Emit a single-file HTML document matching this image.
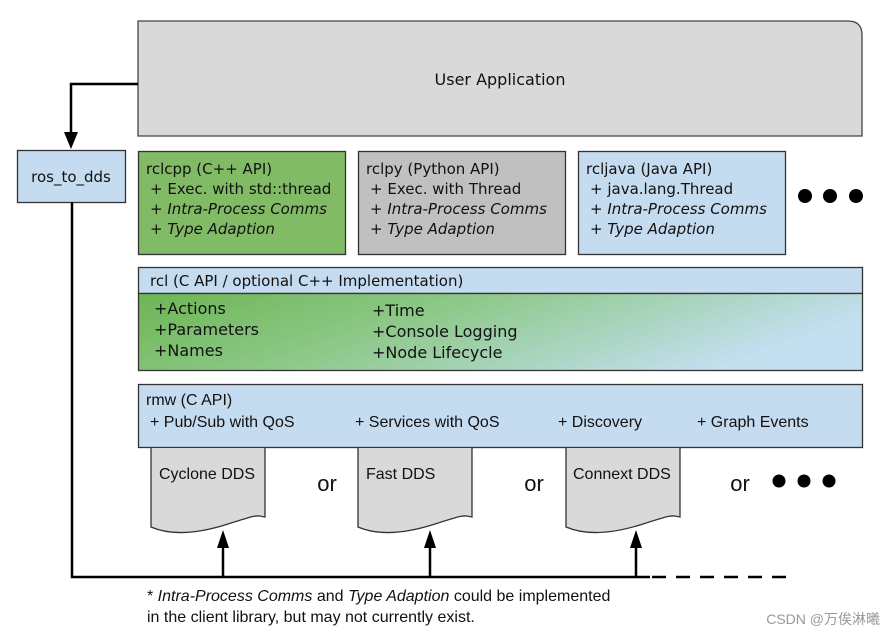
<!DOCTYPE html>
<html><head><meta charset="utf-8"><style>
body{margin:0;background:#fff}
svg text{font-family:"DejaVu Sans","Liberation Sans",sans-serif;fill:#111}
.l{font-family:"Liberation Sans",sans-serif}
</style></head><body>
<svg width="895" height="638" viewBox="0 0 895 638" xmlns="http://www.w3.org/2000/svg">
<defs>
<linearGradient id="g" x1="0" y1="0" x2="1" y2="0.3">
<stop offset="0" stop-color="#6db554"/><stop offset="0.45" stop-color="#8ec98a"/><stop offset="1" stop-color="#c3dff0"/>
</linearGradient>
<marker id="a" markerWidth="10" markerHeight="12" refX="5" refY="12" orient="auto-start-reverse" markerUnits="userSpaceOnUse">
</marker>
</defs>
<!-- user application -->
<path d="M138,21 H848 Q862,21 862,35 V136 H138 Z" fill="#d9d9d9" stroke="#444" stroke-width="1.3"/>
<text x="500" y="85" font-size="16" text-anchor="middle">User Application</text>
<!-- connector to ros_to_dds -->
<polyline points="138,84 71,84 71,138" fill="none" stroke="#000" stroke-width="2.5"/>
<polygon points="64,132 78,132 71,149" fill="#000"/>
<rect x="17.5" y="150.5" width="108" height="52" fill="#c5dcf0" stroke="#333" stroke-width="1.3"/>
<text x="71" y="182" font-size="15" text-anchor="middle">ros_to_dds</text>
<polyline points="72,202 72,577 650,577" fill="none" stroke="#000" stroke-width="2.5"/>
<line x1="652" y1="577" x2="790" y2="577" stroke="#000" stroke-width="2.5" stroke-dasharray="14,10"/>
<!-- client libs -->
<rect x="138.5" y="151.5" width="207" height="103" fill="#82bb65" stroke="#333" stroke-width="1.3"/>
<text x="146" y="174" font-size="15">rclcpp (C++ API)</text>
<text x="150" y="194" font-size="15">+ Exec. with std::thread</text>
<text x="150" y="214" font-size="15">+ <tspan font-style="italic">Intra-Process Comms</tspan></text>
<text x="150" y="234" font-size="15">+ <tspan font-style="italic">Type Adaption</tspan></text>
<rect x="358.5" y="151.5" width="207" height="103" fill="#c0c0c0" stroke="#333" stroke-width="1.3"/>
<text x="366" y="174" font-size="15">rclpy (Python API)</text>
<text x="370" y="194" font-size="15">+ Exec. with Thread</text>
<text x="370" y="214" font-size="15">+ <tspan font-style="italic">Intra-Process Comms</tspan></text>
<text x="370" y="234" font-size="15">+ <tspan font-style="italic">Type Adaption</tspan></text>
<rect x="578.5" y="151.5" width="207" height="103" fill="#c5dcf0" stroke="#333" stroke-width="1.3"/>
<text x="586" y="174" font-size="15">rcljava (Java API)</text>
<text x="590" y="194" font-size="15">+ java.lang.Thread</text>
<text x="590" y="214" font-size="15">+ <tspan font-style="italic">Intra-Process Comms</tspan></text>
<text x="590" y="234" font-size="15">+ <tspan font-style="italic">Type Adaption</tspan></text>
<circle cx="805" cy="196" r="7" fill="#000"/><circle cx="830" cy="196" r="7" fill="#000"/><circle cx="856" cy="196" r="7" fill="#000"/>
<!-- rcl -->
<rect x="138.5" y="267.5" width="724" height="26" fill="#c5dcf0" stroke="#333" stroke-width="1.3"/>
<text x="150" y="286" font-size="15">rcl (C API / optional C++ Implementation)</text>
<rect x="138.5" y="293.5" width="724" height="77" fill="url(#g)" stroke="#333" stroke-width="1.3"/>
<text x="154" y="314" font-size="16">+Actions</text>
<text x="154" y="335" font-size="16">+Parameters</text>
<text x="154" y="356" font-size="16">+Names</text>
<text x="372" y="316" font-size="16">+Time</text>
<text x="372" y="337" font-size="16">+Console Logging</text>
<text x="372" y="358" font-size="16">+Node Lifecycle</text>
<!-- rmw -->
<rect x="138.5" y="384.5" width="724" height="63" fill="#c5dcf0" stroke="#333" stroke-width="1.3"/>
<text class="l" x="146" y="405" font-size="16">rmw (C API)</text>
<text class="l" x="150" y="427" font-size="16">+ Pub/Sub with QoS</text>
<text class="l" x="355" y="427" font-size="16">+ Services with QoS</text>
<text class="l" x="558" y="427" font-size="16">+ Discovery</text>
<text class="l" x="697" y="427" font-size="16">+ Graph Events</text>
<!-- docs -->
<g fill="#d9d9d9" stroke="#333" stroke-width="1.3">
<path d="M151,448 V527 C172,536 200,533 228,524 S256,515 265,517 V448"/>
<path d="M358,448 V527 C379,536 407,533 435,524 S463,515 472,517 V448"/>
<path d="M566,448 V527 C587,536 615,533 643,524 S671,515 680,517 V448"/>
</g>
<text class="l" x="159" y="479" font-size="16">Cyclone DDS</text>
<text class="l" x="366" y="479" font-size="16">Fast DDS</text>
<text class="l" x="573" y="479" font-size="16">Connext DDS</text>
<text class="l" x="327" y="491" font-size="22" text-anchor="middle">or</text>
<text class="l" x="534" y="491" font-size="22" text-anchor="middle">or</text>
<text class="l" x="740" y="491" font-size="22" text-anchor="middle">or</text>
<circle cx="779" cy="481" r="6.5" fill="#000"/><circle cx="804" cy="481" r="6.5" fill="#000"/><circle cx="829" cy="481" r="6.5" fill="#000"/>
<!-- up arrows -->
<g stroke="#000" stroke-width="2.5">
<line x1="223" y1="577" x2="223" y2="545"/><line x1="430" y1="577" x2="430" y2="545"/><line x1="636" y1="577" x2="636" y2="545"/>
</g>
<g fill="#000">
<polygon points="217,548 229,548 223,530"/><polygon points="424,548 436,548 430,530"/><polygon points="630,548 642,548 636,530"/>
</g>
<text class="l" x="147" y="601" font-size="16">* <tspan font-style="italic">Intra-Process Comms</tspan> and <tspan font-style="italic">Type Adaption</tspan> could be implemented</text>
<text class="l" x="147" y="622" font-size="16">in the client library, but may not currently exist.</text>
<text x="880" y="624" font-size="14" text-anchor="end" style="font-family:'Liberation Sans','Noto Sans CJK SC',sans-serif;fill:#999">CSDN @万俟淋曦</text>
</svg>
</body></html>
